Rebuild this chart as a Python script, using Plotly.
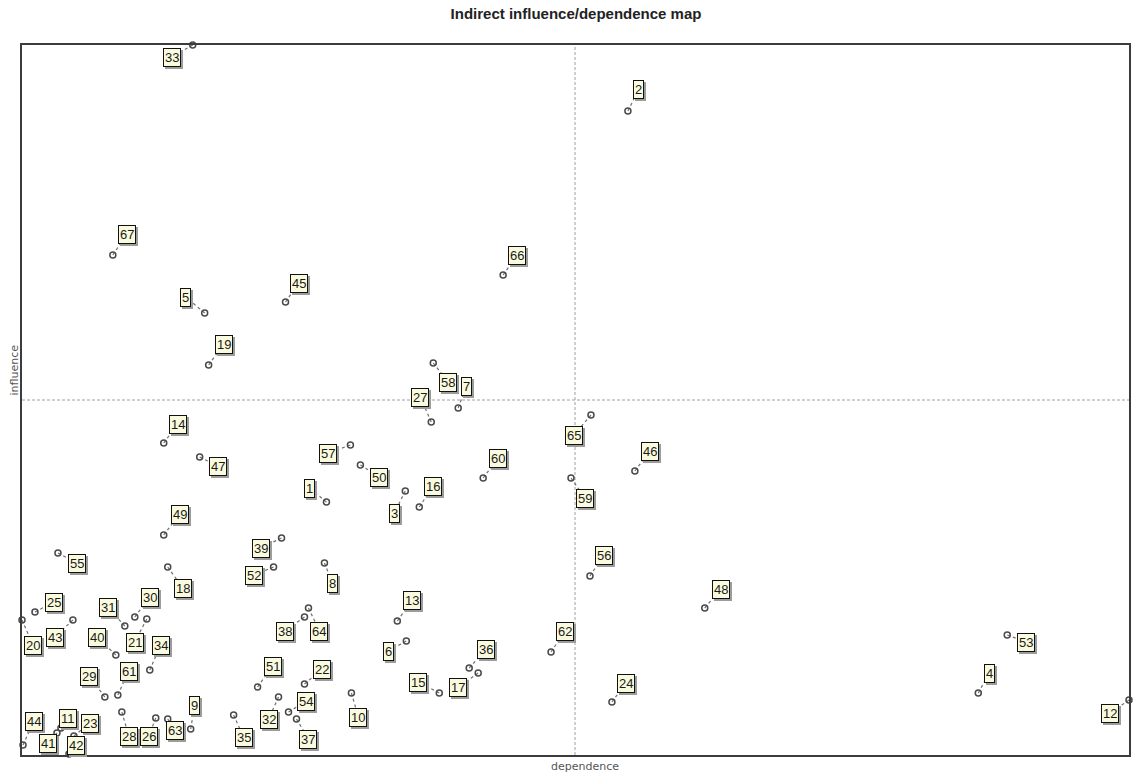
import plotly.graph_objects as go

# variable numbers
variables = [str(i) for i in range(1, 68)]

# dependence (x) and influence (y) values
dependence = [305, 607, 384, 958, 183, 385, 437, 303, 169, 330,
              39, 1109, 376, 142, 418, 398, 457, 146, 187, 0,
              125, 283, 52, 591, 13, 134, 410, 100, 83, 113,
              103, 257, 171, 128, 212, 448, 275, 283, 260, 94,
              35, 47, 51, 1, 264, 614, 178, 684, 142, 339,
              236, 252, 987, 267, 36, 569, 329, 412, 550, 462,
              96, 530, 146, 287, 570, 482, 91]
influence = [253, 644, 264, 62, 442, 114, 347, 192, 26, 62,
             27, 55, 134, 312, 62, 248, 82, 188, 390, 135,
             136, 71, 19, 53, 143, 37, 333, 43, 58, 138,
             129, 58, 710, 85, 40, 87, 36, 138, 217, 100,
             22, 1, 135, 10, 453, 284, 298, 147, 220, 290,
             68, 188, 120, 43, 202, 179, 310, 392, 277, 277,
             60, 103, 36, 147, 340, 480, 500]

# label box offsets from each point, in pixels (dx right, dy up)
label_offsets = [(-17, 14), (11, 22), (-11, -22), (11, 20), (-19, 16), (-18, -10), (8, 22), (8, -20), (4, 24), (7, -24),
                 (7, 10), (-19, -13), (15, 21), (14, 19), (-21, 11), (14, 21), (-20, -14), (15, -21), (15, 21), (11, -25),
                 (-12, -23), (18, 15), (16, 13), (14, 19), (19, 10), (-7, -18), (-11, 25), (7, -24), (-16, 21), (15, 20),
                 (-17, 19), (-10, -22), (-21, -12), (11, 25), (10, -22), (17, 19), (12, -20), (-20, -14), (-21, -10), (-19, 18),
                 (-9, -10), (7, 9), (-18, -17), (11, 24), (13, 19), (15, 20), (18, -9), (16, 19), (16, 21), (19, -12),
                 (15, 21), (-20, -8), (19, -7), (18, 11), (19, -10), (14, 21), (-22, -8), (15, -19), (14, -20), (15, 20),
                 (11, 24), (14, 21), (7, -11), (11, -23), (-17, -20), (14, 20), (14, 21)]

x_mid = 554
y_mid = 355
x_max = 1109
y_max = 710

W, H = 1133, 772
ML, MR, MT, MB = 22, 2, 45, 17

fig = go.Figure()

# dashed quadrant lines
fig.add_shape(type="line", x0=x_mid, x1=x_mid, y0=0, y1=y_max, xref="x", yref="y",
              line=dict(color="#a0a0a0", width=1, dash="3px,2px"), layer="below")
fig.add_shape(type="line", x0=0, x1=x_max, y0=y_mid, y1=y_mid, xref="x", yref="y",
              line=dict(color="#a0a0a0", width=1, dash="3px,2px"), layer="below")

# leader lines
lx, ly = [], []
label_x, label_y = [], []
for xv, yv, (dx, dy) in zip(dependence, influence, label_offsets):
    tx, ty = xv + dx, yv + dy
    label_x.append(tx)
    label_y.append(ty)
    lx += [xv, tx, None]
    ly += [yv, ty, None]
fig.add_trace(go.Scatter(x=lx, y=ly, mode="lines", hoverinfo="skip",
                         line=dict(color="#707070", width=1.2, dash="dot"), showlegend=False))

# points
fig.add_trace(go.Scatter(x=dependence, y=influence, mode="markers", text=variables,
                         marker=dict(symbol="circle-open", size=6, color="#4a4a4a",
                                     line=dict(width=1.5, color="#4a4a4a")),
                         showlegend=False, cliponaxis=False))

font_fam = "Liberation Sans Narrow, Arial Narrow, Liberation Sans, Arial, sans-serif"
ann = []
for name, tx, ty in zip(variables, label_x, label_y):
    # shadow
    ann.append(dict(x=tx, y=ty, xref="x", yref="y", text=name, showarrow=False,
                    xshift=2, yshift=-2, font=dict(family=font_fam, size=13, color="#9c9c9c"),
                    bgcolor="#9c9c9c", bordercolor="#9c9c9c", borderwidth=1, borderpad=1))
for name, tx, ty in zip(variables, label_x, label_y):
    ann.append(dict(x=tx, y=ty, xref="x", yref="y", text=name, showarrow=False,
                    font=dict(family=font_fam, size=13, color="#1a1a1a"),
                    bgcolor="#fafade", bordercolor="#111111", borderwidth=1, borderpad=1))

ann.append(dict(x=(586 - ML) / (W - ML - MR), y=-(758 - 755) / (H - MT - MB), xref="paper", yref="paper",
                xanchor="center", yanchor="top",
                text="dependence", showarrow=False, font=dict(family="DejaVu Sans, sans-serif", size=11, color="#555")))
ann.append(dict(x=-(ML - 6) / (W - ML - MR), y=(755 - 370) / (H - MT - MB), xref="paper", yref="paper",
                xanchor="left", yanchor="middle",
                text="influence", showarrow=False, textangle=-90,
                font=dict(family="DejaVu Sans, sans-serif", size=11, color="#555")))

fig.update_layout(
    width=W, height=H,
    margin=dict(l=ML, r=MR, t=MT, b=MB),
    paper_bgcolor="white", plot_bgcolor="white",
    title=dict(text="<b>Indirect influence/dependence map</b>", x=576 / W, xanchor="center",
               y=1 - 14 / H, yanchor="middle",
               font=dict(family=font_fam, size=15, color="#222")),
    annotations=ann,
    xaxis=dict(range=[0, x_max], showgrid=False, zeroline=False, showticklabels=False,
               showline=True, mirror=True, linecolor="#3c3c3c", linewidth=1.5, ticks=""),
    yaxis=dict(range=[0, y_max], showgrid=False, zeroline=False, showticklabels=False,
               showline=True, mirror=True, linecolor="#3c3c3c", linewidth=1.5, ticks=""),
)

fig.write_html("out.html", config={"displayModeBar": False},
               post_script="document.body.style.margin='0';")
